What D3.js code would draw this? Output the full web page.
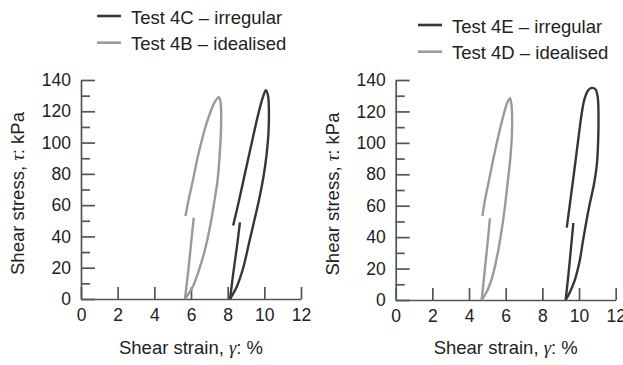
<!DOCTYPE html>
<html>
<head>
<meta charset="utf-8">
<script src="https://cdn.jsdelivr.net/npm/d3@7"></script>
<style>
  body { margin: 0; background: #fff; }
  svg { display: block; }
  text { font-family: "Liberation Sans", Arial, sans-serif; fill: #222; }
  .axis path, .axis line { stroke: #555; stroke-width: 1.7; }
  .axis text { font-size: 17.5px; fill: #222; }
</style>
</head>
<body>
<svg width="623" height="365"></svg>
<script>
// tick values
const xTicks = [0, 2, 4, 6, 8, 10, 12];
const yMajor = [0, 20, 40, 60, 80, 100, 120, 140];
const yMinor = [10, 30, 50, 70, 90, 110, 130];

// Test 4B (idealised) - first loading leg, then the main loop [strain %, stress kPa]
const test4B_start = [[5.67, 0], [5.85, 18], [6.0, 35], [6.15, 52]];
const test4B_loop = [
  [5.7, 53], [5.86, 63], [6.07, 74], [6.45, 95], [6.95, 116], [7.3, 126], [7.52, 129],
  [7.62, 125], [7.64, 110], [7.58, 95], [7.45, 76], [7.28, 63], [7.1, 50],
  [6.75, 31], [6.42, 18], [6.1, 8], [5.67, 0]
];

// Test 4C (irregular)
const test4C_start = [[8.13, 0], [8.3, 16], [8.5, 33], [8.67, 49]];
const test4C_loop = [
  [8.3, 47], [8.62, 63], [9.22, 95], [9.75, 122], [9.95, 130], [10.08, 133.5],
  [10.2, 130], [10.25, 120], [10.22, 105], [10.12, 92], [9.95, 78], [9.72, 64],
  [9.45, 50], [9.15, 35], [8.85, 20], [8.5, 8], [8.13, 0]
];

// Test 4D (idealised)
const test4D_start = [[4.69, 0], [4.85, 18], [5.0, 35], [5.14, 52]];
const test4D_loop = [
  [4.73, 53.5], [4.87, 63.6], [5.05, 74], [5.42, 95], [5.8, 114], [6.1, 126], [6.24, 128.5],
  [6.33, 122], [6.34, 106], [6.25, 90], [6.1, 74], [6.0, 63.6], [5.85, 50],
  [5.6, 32], [5.3, 16], [5.0, 6], [4.69, 0]
];

// Test 4E (irregular)
const test4E_start = [[9.27, 0], [9.42, 16], [9.56, 33], [9.69, 49]];
const test4E_loop = [
  [9.33, 46], [9.53, 63.6], [9.76, 84], [10.0, 106], [10.15, 119], [10.3, 128],
  [10.5, 133.5], [10.7, 135], [10.9, 134], [11.02, 129], [11.06, 118], [11.04, 100],
  [10.97, 86], [10.82, 74], [10.6, 62], [10.4, 50], [10.22, 38], [10.02, 24],
  [9.75, 12], [9.5, 5], [9.27, 0]
];

const panels = [
  {
    x0: 81, x1: 301, yTop: 80, yBot: 299, labelX: 24,
    legend: { lx: 97, tx: 131, y: 16 },
    series: [
      { name: "Test 4C \u2013 irregular", color: "#363636", parts: [test4C_start, test4C_loop] },
      { name: "Test 4B \u2013 idealised", color: "#9a9a9a", parts: [test4B_start, test4B_loop] }
    ]
  },
  {
    x0: 395.7, x1: 615.7, yTop: 80, yBot: 300, labelX: 339,
    legend: { lx: 418, tx: 452, y: 25 },
    series: [
      { name: "Test 4E \u2013 irregular", color: "#363636", parts: [test4E_start, test4E_loop] },
      { name: "Test 4D \u2013 idealised", color: "#9a9a9a", parts: [test4D_start, test4D_loop] }
    ]
  }
];

const svg = d3.select("svg");

panels.forEach(p => {
  const x = d3.scaleLinear().domain([0, 12]).range([p.x0, p.x1]);
  const y = d3.scaleLinear().domain([0, 140]).range([p.yBot, p.yTop]);
  const g = svg.append("g");

  // minor y ticks
  g.append("g").attr("class", "axis")
    .attr("transform", `translate(${p.x0},0)`)
    .call(d3.axisLeft(y).tickValues(yMinor).tickSize(-9).tickSizeOuter(0).tickFormat(""))
    .select(".domain").remove();

  // major y ticks with labels
  g.append("g").attr("class", "axis")
    .attr("transform", `translate(${p.x0},0)`)
    .call(d3.axisLeft(y).tickValues(yMajor).tickSize(-14).tickSizeOuter(0).tickPadding(10));

  // x axis, ticks pointing up
  g.append("g").attr("class", "axis")
    .attr("transform", `translate(0,${p.yBot})`)
    .call(d3.axisBottom(x).tickValues(xTicks).tickSize(-12).tickSizeOuter(0).tickPadding(10));

  // curves
  const line = d3.line()
    .x(d => x(d[0]))
    .y(d => y(d[1]))
    .curve(d3.curveCatmullRom.alpha(0.5));

  p.series.slice().reverse().forEach(s => {
    s.parts.forEach(part => {
      g.append("path")
        .attr("d", line(part))
        .attr("fill", "none")
        .attr("stroke", s.color)
        .attr("stroke-width", 2.4);
    });
  });

  // legend
  p.series.forEach((s, i) => {
    const ly = p.legend.y + i * 26.7;
    g.append("line")
      .attr("x1", p.legend.lx).attr("x2", p.legend.lx + 24)
      .attr("y1", ly).attr("y2", ly)
      .attr("stroke", s.color).attr("stroke-width", 2.6);
    g.append("text")
      .attr("x", p.legend.tx).attr("y", ly + 7.5)
      .style("font-size", "18.5px")
      .text(s.name);
  });

  // axis titles
  const xt = g.append("text")
    .attr("x", (p.x0 + p.x1) / 2).attr("y", 354)
    .attr("text-anchor", "middle")
    .style("font-size", "18.5px");
  xt.append("tspan").text("Shear strain, ");
  xt.append("tspan").style("font-family", "'Liberation Serif', serif").style("font-style", "italic").text("\u03b3");
  xt.append("tspan").text(": %");

  const yt = g.append("text")
    .attr("transform", `translate(${p.labelX},${(p.yTop + p.yBot) / 2 + 4}) rotate(-90)`)
    .attr("text-anchor", "middle")
    .style("font-size", "18.5px");
  yt.append("tspan").text("Shear stress, ");
  yt.append("tspan").style("font-family", "'Liberation Serif', serif").style("font-style", "italic").text("\u03c4");
  yt.append("tspan").text(": kPa");
});
</script>
</body>
</html>
